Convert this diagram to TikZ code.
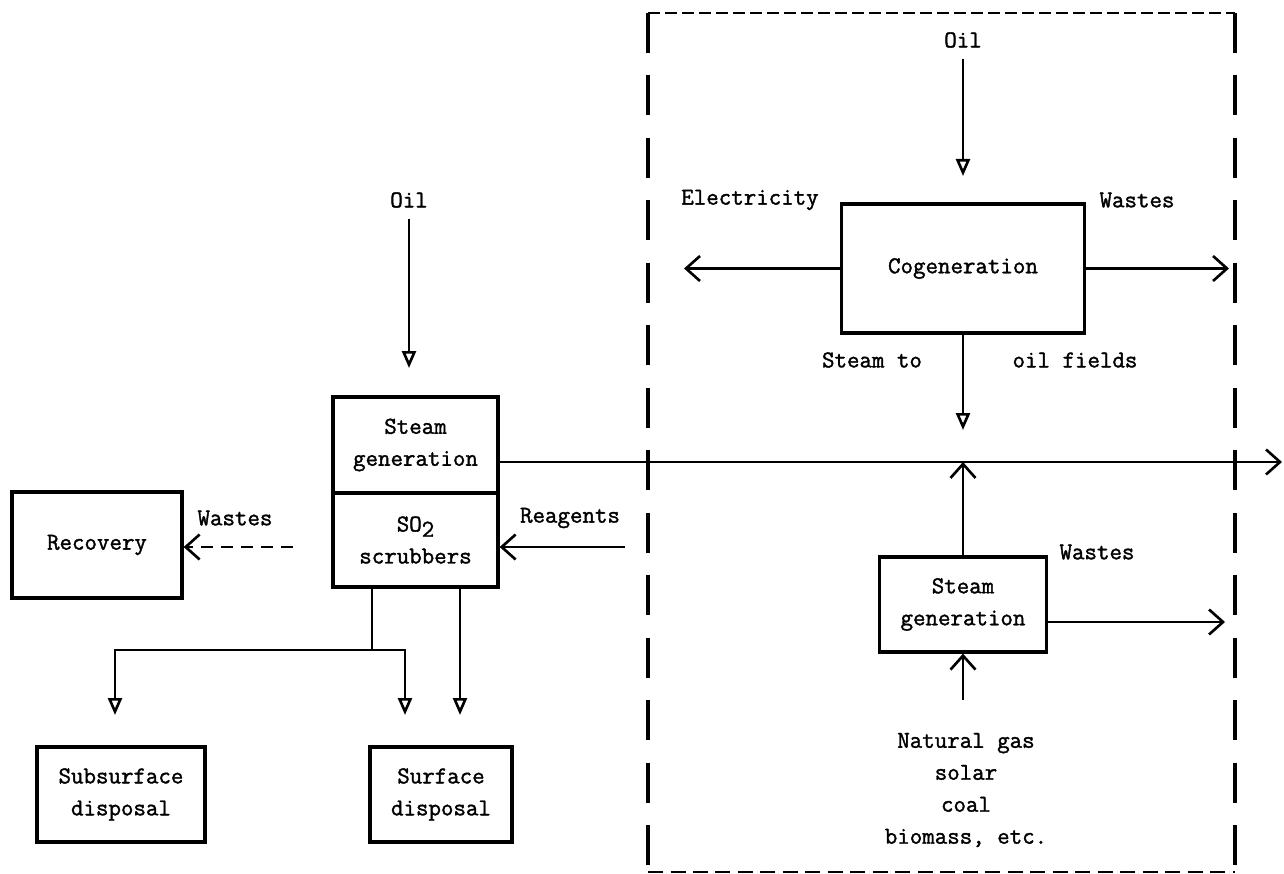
\documentclass[tikz,border=0pt]{standalone}
\usepackage{fontspec}
\newfontfamily\diafont{Latin Modern Mono}[FakeBold=1.5]
\usetikzlibrary{arrows.meta}
\begin{document}
\begin{tikzpicture}[x=0.02cm,y=-0.02cm,
  every node/.style={font=\diafont\fontsize{13.8}{18.2}\selectfont, inner sep=0pt},
  box/.style={draw, line width=1.9pt, align=center},
  lbl/.style={align=center},
  conn/.style={line width=1.5pt},
  tri/.style={conn, -{Triangle[open, length=0.34cm, width=0.28cm, line width=1.5pt]}},
  chev/.style={conn, -{Straight Barb[length=0.28cm, width=0.5cm, line width=1.5pt]}},
  frameside/.style={line width=1.8pt, dash pattern=on 0.8cm off 0.45cm},
  frametop/.style={line width=1.6pt, dash pattern=on 0.24cm off 0.1cm},
  framebot/.style={line width=1pt, dash pattern=on 0.3cm off 0.15cm},
]
\useasboundingbox (0,0) rectangle (1284,874);

% boxes
\node[box, minimum width=4.86cm, minimum height=2.58cm] (cogen) at (963,268.5) {Cogeneration};
\node[box, minimum width=3.34cm, minimum height=1.9cm] (steamR) at (963,604.5) {Steam\\generation};
\node[box, minimum width=3.3cm, minimum height=1.92cm] (steamL) at (415.5,445) {Steam\\generation};
\node[box, minimum width=3.3cm, minimum height=1.88cm] (scrub) at (415.5,540) {SO\raisebox{-0.5ex}{2}\\scrubbers};
\node[box, minimum width=3.4cm, minimum height=2.12cm] (recov) at (97,545) {Recovery};
\node[box, minimum width=3.36cm, minimum height=1.9cm] (subsurf) at (121,794.5) {Subsurface\\disposal};
\node[box, minimum width=2.84cm, minimum height=1.9cm] (surf) at (441,794.5) {Surface\\disposal};

% labels
\node (oilR) at (963,40) {Oil};
\node (oilL) at (409,200) {Oil};
\node (elec) at (750,200) {Electricity};
\node (wT) at (1137,200) {Wastes};
\node (steamto) at (872,360) {Steam to};
\node (oilf) at (1075,360) {oil fields};
\node (wR) at (1097,552) {Wastes};
\node[lbl] (fuels) at (966,790) {Natural gas\\solar\\coal\\biomass, etc.};
\node (reag) at (570,518) {Reagents};
\node (wL) at (235,518) {Wastes};

% coordinates
\coordinate (oilRtip) at (963,176);
\coordinate (stTip) at (963,430);
\coordinate (elTip) at (684,268.5);
\coordinate (wTip1) at (1229,268.5);
\coordinate (jn) at (963,462);
\coordinate (mainEnd) at (1282,462);
\coordinate (fuelSrc) at (963,700);
\coordinate (wTip2) at (1225,622);
\coordinate (oilLtip) at (409,368);
\coordinate (reagSrc) at (625,547);
\coordinate (wLsrc) at (293,547);
\coordinate (j1) at (372,650);
\coordinate (t1) at (115,715);
\coordinate (t2) at (405,715);
\coordinate (t3) at (460,715);
\coordinate (fTL) at (648,13);
\coordinate (fTR) at (1235,13);
\coordinate (fBR) at (1235,872);
\coordinate (fBL) at (648,872);

% frame
\draw[frametop] (fTL) -- (fTR);
\draw[frameside] (fTL) -- (fBL);
\draw[frameside] (fTR) -- (fBR);
\draw[framebot] (fBL) -- (fBR);

% connectors
\draw[tri, shorten <=6pt] (oilR.south) -- (oilRtip);
\draw[tri] (cogen.south) -- (stTip);
\draw[chev] (cogen.west) -- (elTip);
\draw[chev] (cogen.east) -- (wTip1);
\draw[chev, line width=1.2pt] (steamL.east |- mainEnd) -- (mainEnd);
\draw[chev] (steamR.north) -- (jn);
\draw[chev] (fuelSrc) -- (steamR.south);
\draw[chev] (steamR.east |- wTip2) -- (wTip2);
\draw[tri, shorten <=6pt] (oilL.south) -- (oilLtip);
\draw[chev] (reagSrc) -- (scrub.east |- reagSrc);
\draw[chev, dash pattern=on 0.24cm off 0.16cm] (wLsrc) -- (recov.east |- wLsrc);
\draw[conn] (scrub.south -| j1) -- (j1);
\draw[tri] (j1) -| (t1);
\draw[tri] (j1) -| (t2);
\draw[tri] (scrub.south -| t3) -- (t3);
\end{tikzpicture}
\end{document}
